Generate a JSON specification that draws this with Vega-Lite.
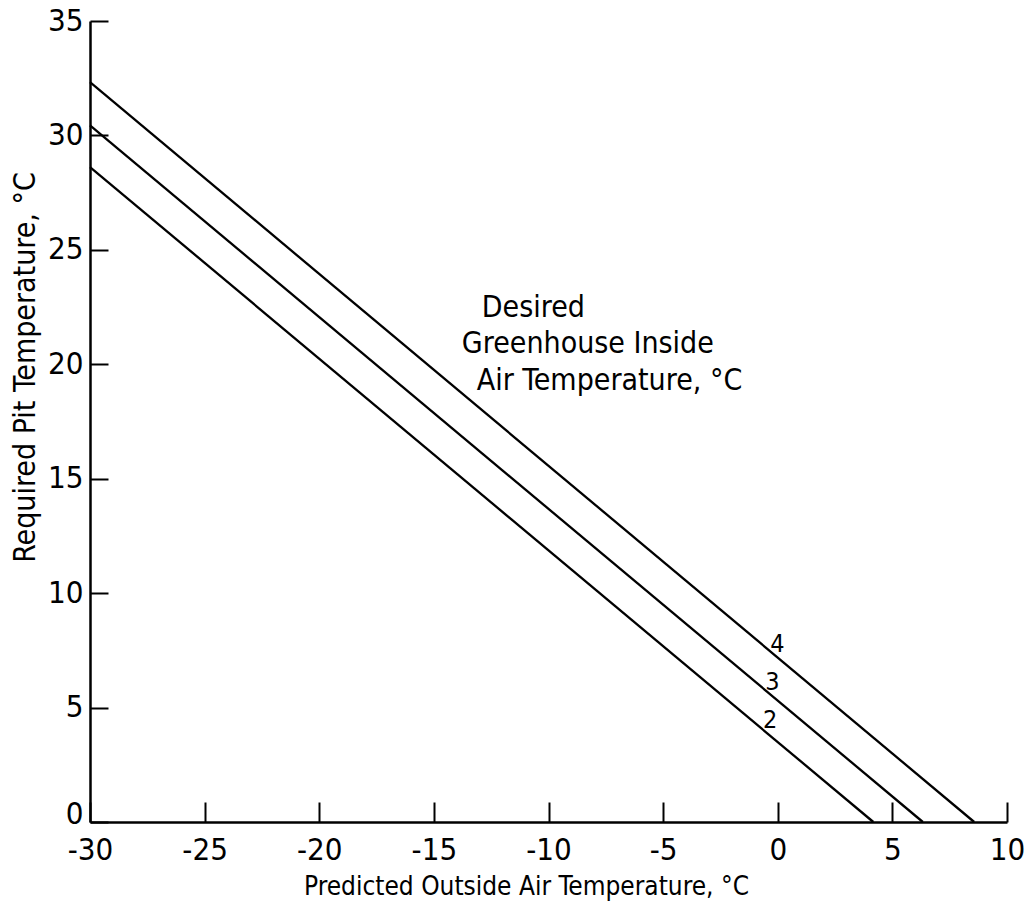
{
  "$schema": "https://vega.github.io/schema/vega-lite/v6.json",
  "width": 917,
  "height": 801,
  "autosize": {"type": "none"},
  "padding": {"left": 90, "top": 21, "right": 24, "bottom": 89},
  "background": "#ffffff",
  "config": {
    "view": {"stroke": null},
    "font": "Liberation Sans Narrow, DejaVu Sans Condensed, sans-serif",
    "axis": {
      "domainColor": "#000000",
      "domainWidth": 2.5,
      "tickColor": "#000000",
      "tickWidth": 2,
      "labelColor": "#000000",
      "titleColor": "#000000",
      "labelFont": "Liberation Sans Narrow, DejaVu Sans Condensed, sans-serif",
      "titleFont": "Liberation Sans Narrow, DejaVu Sans Condensed, sans-serif",
      "labelFontSize": 31,
      "labelFlush": false,
      "labelOverlap": false,
      "titleFontWeight": "normal",
      "grid": false
    }
  },
  "datasets": {
    "lines": [
      {"outside": -30, "pit": 32.33, "inside": "4"},
      {"outside": 8.57, "pit": 0, "inside": "4"},
      {"outside": -30, "pit": 30.44, "inside": "3"},
      {"outside": 6.33, "pit": 0, "inside": "3"},
      {"outside": -30, "pit": 28.62, "inside": "2"},
      {"outside": 4.17, "pit": 0, "inside": "2"}
    ],
    "lineLabels": [
      {"outside": -0.33, "pit": 7.42, "label": "4"},
      {"outside": -0.55, "pit": 5.75, "label": "3"},
      {"outside": -0.64, "pit": 4.1, "label": "2"}
    ],
    "notes": [
      {"outside": -12.91, "pit": 22.07, "label": "Desired"},
      {"outside": -13.78, "pit": 20.48, "label": "Greenhouse Inside"},
      {"outside": -13.13, "pit": 18.86, "label": "Air Temperature, °C"}
    ]
  },
  "layer": [
    {
      "data": {"name": "lines"},
      "mark": {"type": "line", "color": "#000000", "strokeWidth": 2.3},
      "encoding": {
        "x": {
          "field": "outside",
          "type": "quantitative",
          "scale": {"domain": [-30, 10], "nice": false, "zero": false},
          "axis": {
            "values": [-30, -25, -20, -15, -10, -5, 0, 5, 10],
            "labelExpr": "datum.value",
            "tickSize": -20,
            "labelPadding": 33,
            "title": "Predicted Outside Air Temperature, °C",
            "titleFontSize": 26,
            "titleX": 436,
            "titleY": 64,
            "titleBaseline": "middle",
            "titleAlign": "center"
          }
        },
        "y": {
          "field": "pit",
          "type": "quantitative",
          "scale": {"domain": [0, 35], "nice": false},
          "axis": {
            "values": [0, 5, 10, 15, 20, 25, 30, 35],
            "tickSize": -18,
            "labelPadding": 25,
            "labelOffset": {"condition": {"test": "datum.value == 0", "value": -8}, "value": 0},
            "title": "Required Pit Temperature, °C",
            "titleFontSize": 30,
            "titleX": -65,
            "titleY": 346,
            "titleAngle": -90,
            "titleBaseline": "middle",
            "titleAlign": "center"
          }
        },
        "detail": {"field": "inside", "type": "nominal"}
      }
    },
    {
      "data": {"name": "lineLabels"},
      "mark": {"type": "text", "align": "left", "baseline": "alphabetic", "fontSize": 25, "color": "#000000"},
      "encoding": {
        "x": {"field": "outside", "type": "quantitative"},
        "y": {"field": "pit", "type": "quantitative"},
        "text": {"field": "label", "type": "nominal"}
      }
    },
    {
      "data": {"name": "notes"},
      "mark": {"type": "text", "align": "left", "baseline": "alphabetic", "fontSize": 30, "color": "#000000"},
      "encoding": {
        "x": {"field": "outside", "type": "quantitative"},
        "y": {"field": "pit", "type": "quantitative"},
        "text": {"field": "label", "type": "nominal"}
      }
    }
  ]
}
